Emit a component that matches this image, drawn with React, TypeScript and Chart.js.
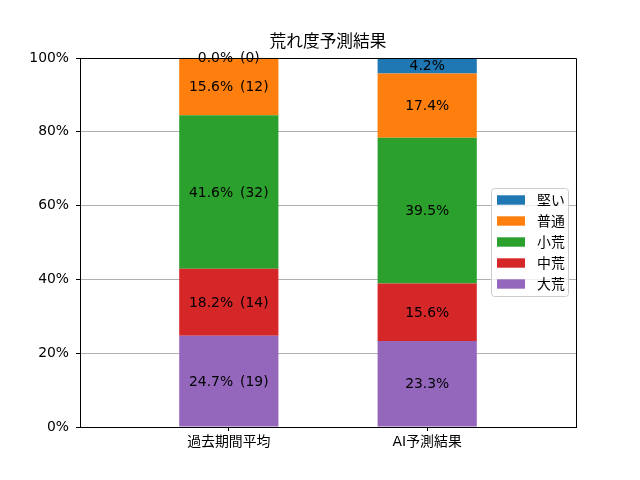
import { useEffect, useRef } from "react";
import { Chart, registerables, type ChartConfiguration, type Plugin } from "chart.js";

Chart.register(...registerables);

const FONT = "'DejaVu Sans', 'Noto Sans CJK JP', sans-serif";
const SIZE = 13.9;

const categories = ["過去期間平均", "AI予測結果"];
// 積み上げ順（下から）
const seriesNames = ["大荒", "中荒", "小荒", "普通", "堅い"];
const seriesColors = ["#9467bd", "#d62728", "#2ca02c", "#ff7f0e", "#1f77b4"];
const pastPercent = [24.7, 18.2, 41.6, 15.6, 0.0];
const pastCount = [19, 14, 32, 12, 0];
const aiPercent = [23.3, 15.6, 39.5, 17.4, 4.2];
const yTicks = [0, 20, 40, 60, 80, 100];

const segLabel = (cat: number, s: number) =>
  cat === 0
    ? `${pastPercent[s].toFixed(1)}%\u2002(${pastCount[s]})`
    : `${aiPercent[s].toFixed(1)}%`;

const decor: Plugin<"bar"> = {
  id: "decor",
  afterDatasetsDraw(chart) {
    const { ctx, chartArea: a } = chart;
    ctx.save();
    // 上・右の枠線
    ctx.strokeStyle = "#000";
    ctx.lineWidth = 1;
    ctx.beginPath();
    ctx.moveTo(a.left, a.top + 0.5);
    ctx.lineTo(a.right + 0.5, a.top + 0.5);
    ctx.lineTo(a.right + 0.5, a.bottom);
    ctx.stroke();

    // 棒の中のラベル
    ctx.font = `${SIZE}px ${FONT}`;
    ctx.fillStyle = "#000";
    ctx.textAlign = "center";
    ctx.textBaseline = "middle";
    chart.data.datasets.forEach((_, s) => {
      const meta = chart.getDatasetMeta(s);
      meta.data.forEach((el: any, i) => {
        ctx.fillText(segLabel(i, s), el.x, (el.y + el.base) / 2 + 1);
      });
    });

    // タイトル
    ctx.font = `16.7px ${FONT}`;
    ctx.fillText("荒れ度予測結果", (a.left + a.right) / 2, 43);

    // 凡例（右中央、逆順）
    const lx = 491.5, ly = 188.5, lw = 77, lh = 108;
    ctx.beginPath();
    ctx.roundRect(lx, ly, lw, lh, 3);
    ctx.fillStyle = "rgba(255,255,255,0.8)";
    ctx.fill();
    ctx.strokeStyle = "#cccccc";
    ctx.stroke();
    ctx.textAlign = "left";
    ctx.font = `${SIZE}px ${FONT}`;
    const order = seriesNames.map((_, i) => i).reverse();
    order.forEach((s, k) => {
      const cy = 200 + k * 21;
      ctx.fillStyle = seriesColors[s];
      ctx.fillRect(497, cy - 4.7, 28, 9.4);
      ctx.fillStyle = "#000";
      ctx.fillText(seriesNames[s], 537, cy + 1);
    });
    ctx.restore();
  },
};

export default function App() {
  const canvasRef = useRef<HTMLCanvasElement>(null);

  useEffect(() => {
    const el = canvasRef.current;
    if (!el) return;
    const config: ChartConfiguration<"bar"> = {
      type: "bar",
      data: {
        datasets: seriesNames.map((name, s) => ({
          label: name,
          data: [
            { x: 0, y: pastPercent[s] },
            { x: 1, y: aiPercent[s] },
          ],
          backgroundColor: seriesColors[s],
          borderWidth: 0,
          barPercentage: 0.5,
          categoryPercentage: 1,
        })),
      },
      options: {
        animation: false,
        responsive: false,
        devicePixelRatio: 1,
        layout: { padding: { top: 58, right: 64, left: 0, bottom: 0 } },
        plugins: {
          legend: { display: false },
          title: { display: false },
          tooltip: { enabled: false },
        },
        scales: {
          x: {
            type: "linear",
            stacked: true,
            offset: false,
            min: -0.75,
            max: 1.75,
            afterBuildTicks: (scale) => {
              scale.ticks = categories.map((_, i) => ({ value: i }));
            },
            afterFit: (scale) => {
              scale.height = 53;
            },
            grid: {
              offset: false,
              drawOnChartArea: false,
              tickColor: "#000",
              tickLength: 4,
            },
            border: { display: true, color: "#000", width: 1 },
            ticks: {
              autoSkip: false,
              maxRotation: 0,
              padding: 3,
              color: "#000",
              font: { family: FONT, size: SIZE },
              callback: (v) => categories[Number(v)] ?? "",
            },
          },
          y: {
            stacked: true,
            min: 0,
            max: 100,
            afterBuildTicks: (scale) => {
              scale.ticks = yTicks.map((v) => ({ value: v }));
            },
            afterFit: (scale) => {
              scale.width = 80;
            },
            grid: {
              color: "#b0b0b0",
              lineWidth: 1,
              tickColor: "#000",
              tickLength: 4,
            },
            border: { display: true, color: "#000", width: 1 },
            ticks: {
              padding: 7,
              color: "#000",
              font: { family: FONT, size: SIZE },
              callback: (v) => `${v}%`,
            },
          },
        },
      },
      plugins: [decor],
    };
    const chart = new Chart(el, config);
    return () => chart.destroy();
  }, []);

  return (
    <div style={{ position: "fixed", left: 0, top: 0, width: 640, height: 480, background: "#fff" }}>
      <canvas ref={canvasRef} width={640} height={480} />
    </div>
  );
}
